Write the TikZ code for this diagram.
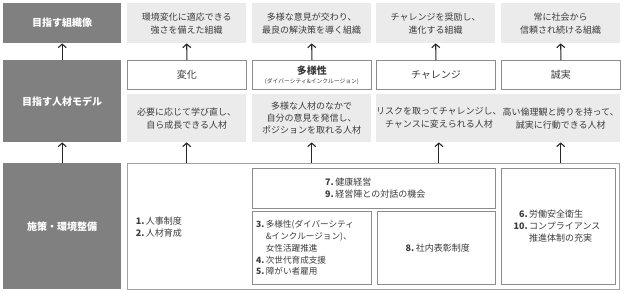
\documentclass[tikz,border=0pt]{standalone}
\usepackage{fontspec}
\setmainfont{Noto Sans CJK JP}
\usetikzlibrary{arrows.meta}
\definecolor{darkg}{HTML}{808080}
\definecolor{lightg}{HTML}{EBEBEB}
\definecolor{edgeg}{HTML}{8C8C8C}
\definecolor{txt}{HTML}{3C3C3C}
\newcommand{\num}[1]{\makebox[1.25em][r]{\bfseries #1}\,}
\newcommand{\numpad}{\hphantom{\makebox[1.25em][r]{\bfseries 0.}\,}}
\begin{document}
\begin{tikzpicture}[x=1pt,y=-1pt,
  box/.style={anchor=north west, inner sep=0pt, align=center},
  darkbox/.style={box, fill=darkg, text=white, font=\fontsize{10}{12}\selectfont\bfseries, minimum width=118pt},
  lightbox/.style={box, fill=lightg, text=txt, font=\fontsize{9}{13}\selectfont, minimum width=119pt},
  whitebox/.style={box, fill=white, draw=edgeg, line width=0.9pt, text=txt, font=\fontsize{10}{12}\selectfont, minimum width=119pt, minimum height=29pt},
  framebox/.style={box, fill=white, draw=edgeg, line width=0.9pt, text=txt},
  listtext/.style={inner sep=0pt, align=left, text=txt, font=\fontsize{9}{12}\selectfont},
  arr/.style={draw=black!85, line width=1.1pt, -{Straight Barb[length=3.5pt,width=8pt]}}
]
\useasboundingbox (0,0) rectangle (624,293);
% left column
\node[darkbox, minimum height=40pt] (d1) at (3,3) {目指す組織像};
\node[darkbox, minimum height=82pt] (d2) at (3,60) {目指す人材モデル};
\node[darkbox, minimum height=126pt] (d3) at (3,163) {施策・環境整備};
% top row
\node[lightbox, minimum height=40pt] (t1) at (127,3) {環境変化に適応できる\\強さを備えた組織};
\node[lightbox, minimum height=40pt] (t2) at (252,3) {多様な意見が交わり、\\最良の解決策を導く組織};
\node[lightbox, minimum height=40pt] (t3) at (376,3) {チャレンジを奨励し、\\進化する組織};
\node[lightbox, minimum height=40pt] (t4) at (501,3) {常に社会から\\信頼され続ける組織};
% value boxes
\node[whitebox] (w1) at (127,60) {変化};
\node[whitebox] (w2) at (252,60) {{\bfseries 多様性}\\[-3pt]{\fontsize{5.8}{6}\selectfont (ダイバーシティ\&インクルージョン)}};
\node[whitebox] (w3) at (376,60) {チャレンジ};
\node[whitebox] (w4) at (501,60) {誠実};
% person row
\node[lightbox, minimum height=48pt] (l1) at (127,94) {必要に応じて学び直し、\\自ら成長できる人材};
\node[lightbox, minimum height=48pt, font=\fontsize{9}{12}\selectfont] (l2) at (252,94) {多様な人材のなかで\\自分の意見を発信し、\\ポジションを取れる人材};
\node[lightbox, minimum height=48pt] (l3) at (376,94) {リスクを取ってチャレンジし、\\チャンスに変えられる人材};
\node[lightbox, minimum height=48pt] (l4) at (501,94) {高い倫理観と誇りを持って、\\誠実に行動できる人材};
% measures
\node[framebox, draw=edgeg!80, minimum width=492pt, minimum height=126pt] (big) at (127,163) {};
\node[framebox, minimum width=243pt, minimum height=40pt] (b7) at (252,168) {};
\node[listtext] (b7t) at (b7.center) {\num{7.}健康経営\\\num{9.}経営陣との対話の機会};
\node[framebox, minimum width=119pt, minimum height=73pt] (b3) at (252,211) {};
\node[listtext, anchor=west, font=\fontsize{8.6}{11.8}\selectfont] (b3t) at ([xshift=1.5pt]b3.west) {\num{3.}多様性(ダイバーシティ\\\numpad\&インクルージョン)、\\\numpad 女性活躍推進\\\num{4.}次世代育成支援\\\num{5.}障がい者雇用};
\node[framebox, minimum width=118pt, minimum height=73pt] (b8) at (377,211) {};
\node[listtext] (b8t) at (b8.center) {\num{8.}社内表彰制度};
\node[framebox, minimum width=114pt, minimum height=116pt] (b6) at (501,168) {};
\node[listtext] (b6t) at (b6.center) {\num{6.}労働安全衛生\\\num{10.}コンプライアンス\\\numpad 推進体制の充実};
\node[listtext, anchor=west] (b1t) at (133,227) {\num{1.}人事制度\\\num{2.}人材育成};
% arrows
\draw[arr] (d2.north) -- (d1.south);
\draw[arr] (d3.north) -- (d2.south);
\foreach \i in {1,2,3,4}{
  \draw[arr] (w\i.north) -- (t\i.south);
  \draw[arr] (l\i.south |- big.north) -- (l\i.south);
}
\end{tikzpicture}
\end{document}
